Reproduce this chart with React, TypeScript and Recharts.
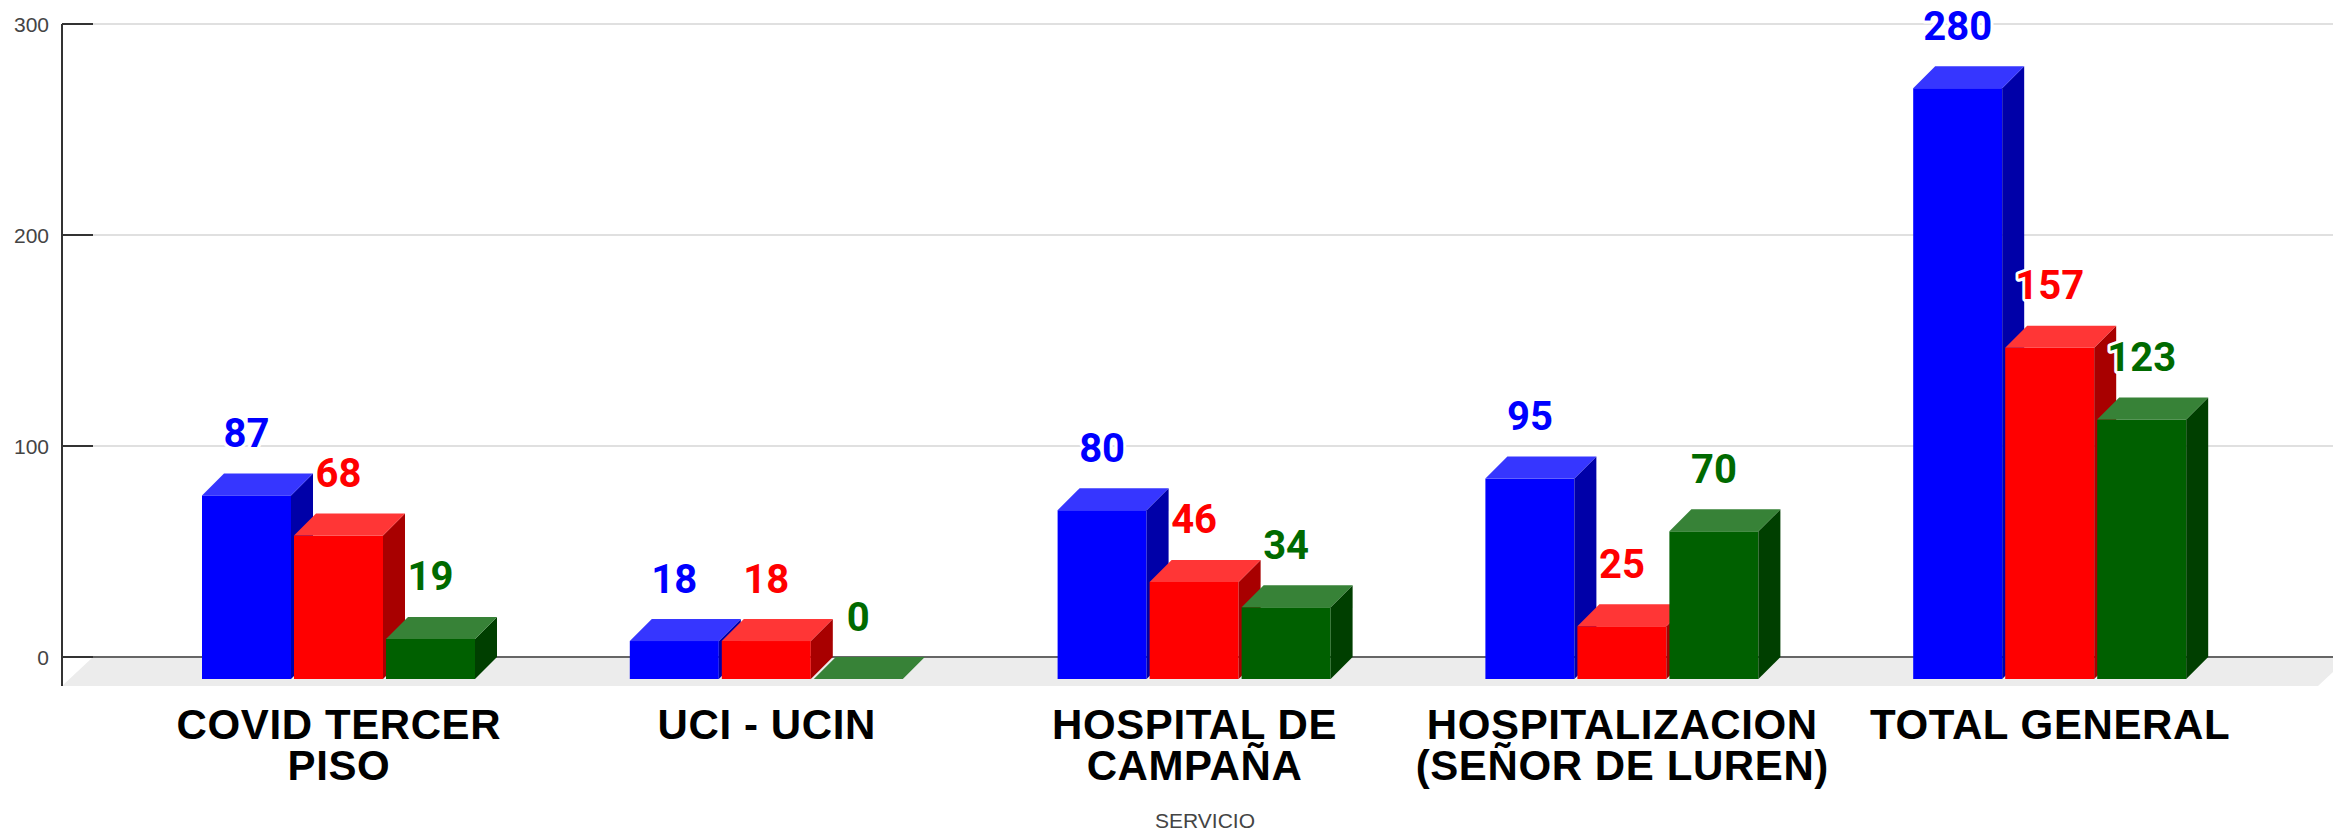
import React from 'react';
import { BarChart, Bar, XAxis, YAxis, CartesianGrid, LabelList, usePlotArea } from 'recharts';

// categories (line breaks as in the picture)
const categories = [
  'COVID TERCER\nPISO',
  'UCI - UCIN',
  'HOSPITAL DE\nCAMPAÑA',
  'HOSPITALIZACION\n(SEÑOR DE LUREN)',
  'TOTAL GENERAL',
];
const blueValues = [87, 18, 80, 95, 280];
const redValues = [68, 18, 46, 25, 157];
const greenValues = [19, 0, 34, 70, 123];
const yTicks = [0, 100, 200, 300];

const data = categories.map((name, i) => ({
  name,
  blue: blueValues[i],
  red: redValues[i],
  green: greenValues[i],
}));

const W = 2333;
const H = 833;
const DEPTH = 22; // 3d offset of the boxes
const FLOOR_DX = 31;
const FLOOR_DY = 29;

const makeBox = (front: string, top: string, side: string) => (props: any) => {
  const { x, y, width, height } = props;
  if (x == null || y == null) return null;
  const h = Math.max(height || 0, 0);
  const d = DEPTH;
  const x0 = x - d;
  const y0 = y + d;
  const xr = x + width;
  return (
    <g>
      <rect x={x0} y={y0} width={width} height={h} fill={front} />
      <polygon points={`${xr - d},${y0} ${xr},${y} ${xr},${y + h} ${xr - d},${y0 + h}`} fill={side} />
      <polygon points={`${x0},${y0} ${x},${y} ${xr},${y} ${xr - d},${y0}`} fill={top} />
    </g>
  );
};

const valueLabel = (color: string) => (props: any) => {
  const { x, y, width, value } = props;
  if (x == null) return null;
  return (
    <text
      x={x + width / 2 - DEPTH}
      y={y - 40}
      fill={color}
      stroke="#ffffff"
      strokeWidth={6}
      strokeLinejoin="round"
      paintOrder="stroke"
      textAnchor="middle"
      dominantBaseline="central"
      fontFamily="Roboto, sans-serif"
      fontWeight="bold"
      fontSize={40}
    >
      {value}
    </text>
  );
};

const CategoryTick = (props: any) => {
  const { x, payload } = props;
  const lines = String(payload.value).split('\n');
  return (
    <text
      x={x - DEPTH}
      y={724}
      textAnchor="middle"
      fontFamily="'Liberation Sans', Arial, sans-serif"
      fontWeight="bold"
      fontSize={42}
      letterSpacing={0.6}
      fill="#000"
    >
      {lines.map((l, i) => (
        <tspan key={i} x={x - DEPTH} dy={i === 0 ? 0 : 41} dominantBaseline="central">
          {l}
        </tspan>
      ))}
    </text>
  );
};

const ValueTick = (props: any) => {
  const { y, payload } = props;
  return (
    <g>
      <line x1={62} x2={93} y1={y} y2={y} stroke="#333" strokeWidth={2} />
      <text
        x={49}
        y={y}
        textAnchor="end"
        dominantBaseline="central"
        fontFamily="'Liberation Sans', Arial, sans-serif"
        fontSize={21}
        fill="#444"
      >
        {payload.value}
      </text>
    </g>
  );
};

function Floor() {
  const plot = usePlotArea();
  if (!plot) return null;
  const bottom = plot.y + plot.height;
  const left = plot.x;
  const right = plot.x + plot.width;
  return (
    <g>
      <polygon
        points={`${left},${bottom} ${right + 16},${bottom} ${right - 15},${bottom + FLOOR_DY} ${left - FLOOR_DX},${bottom + FLOOR_DY}`}
        fill="#ececec"
      />
      <line x1={left} x2={right} y1={bottom} y2={bottom} stroke="#666" strokeWidth={2} />
      <line x1={left - FLOOR_DX} x2={left - FLOOR_DX} y1={plot.y} y2={bottom + FLOOR_DY} stroke="#333" strokeWidth={2} />
    </g>
  );
}

export default function App() {
  return (
    <div style={{ position: 'absolute', left: 0, top: 0, width: W, height: H, background: '#fff', overflow: 'hidden' }}>
      <BarChart width={W} height={H} data={data} margin={{ top: 24, right: 0, left: 0, bottom: 0 }} barSize={89} barGap={3}>
        <CartesianGrid horizontal vertical={false} stroke="#d6d6d6" strokeWidth={1.5} />
        <XAxis
          dataKey="name"
          height={176}
          padding={{ left: 54, right: 47 }}
          axisLine={false}
          tickLine={false}
          interval={0}
          tick={<CategoryTick />}
          label={{ value: 'SERVICIO', position: 'insideBottom', offset: 5, dx: -8, fill: '#444', fontSize: 21, fontFamily: "'Liberation Sans', Arial, sans-serif" }}
        />
        <YAxis width={93} domain={[0, 300]} ticks={yTicks} axisLine={false} tickLine={false} tick={<ValueTick />} />
        <Floor />
        <Bar dataKey="blue" isAnimationActive={false} shape={makeBox('#0000ff', '#3636ff', '#0000a8')}>
          <LabelList dataKey="blue" content={valueLabel('#0000ff')} />
        </Bar>
        <Bar dataKey="red" isAnimationActive={false} shape={makeBox('#ff0000', '#ff3636', '#a80000')}>
          <LabelList dataKey="red" content={valueLabel('#ff0000')} />
        </Bar>
        <Bar dataKey="green" isAnimationActive={false} shape={makeBox('#006000', '#378237', '#003f00')}>
          <LabelList dataKey="green" content={valueLabel('#006a00')} />
        </Bar>
      </BarChart>
    </div>
  );
}
